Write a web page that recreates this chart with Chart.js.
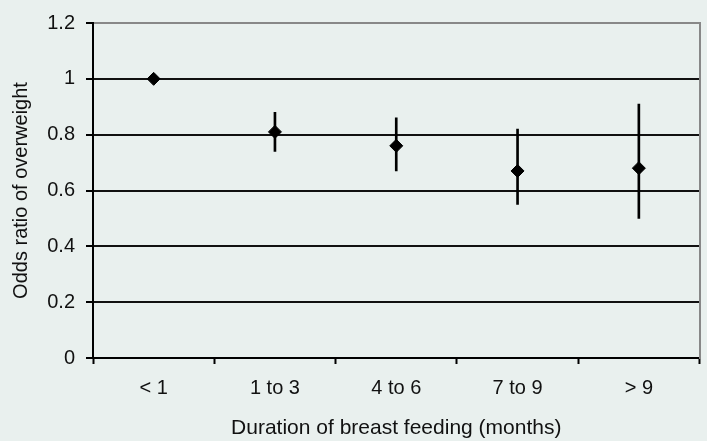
<!DOCTYPE html>
<html>
<head>
<meta charset="utf-8">
<script src="https://cdn.jsdelivr.net/npm/chart.js@4/dist/chart.umd.min.js"></script>
<style>
  html, body { margin: 0; padding: 0; background: #e9f0ee; }
  #c { display: block; }
</style>
</head>
<body>
<canvas id="c" width="707" height="441"></canvas>
<script>
const categories = ['< 1', '1 to 3', '4 to 6', '7 to 9', '> 9'];
const oddsRatio = [1.0, 0.81, 0.76, 0.67, 0.68];
const ciLow = [null, 0.74, 0.67, 0.55, 0.50];
const ciHigh = [null, 0.88, 0.86, 0.82, 0.91];
const yTicks = [0, 0.2, 0.4, 0.6, 0.8, 1, 1.2];

const FONT = 'Liberation Sans, Arial, sans-serif';
const TXT = '#111';

new Chart(document.getElementById('c'), {
  type: 'bar',
  data: {
    labels: categories,
    datasets: [
      {
        type: 'line',
        label: 'Odds ratio',
        data: oddsRatio,
        showLine: false,
        pointStyle: 'rectRot',
        pointRadius: 6.5,
        pointHoverRadius: 6.5,
        pointBackgroundColor: '#000',
        pointBorderColor: '#000',
        pointBorderWidth: 1,
        order: 0
      },
      {
        type: 'bar',
        label: '95% CI',
        data: ciLow.map((l, i) => (l === null ? null : [l, ciHigh[i]])),
        backgroundColor: '#000',
        borderWidth: 0,
        barThickness: 2,
        order: 1
      }
    ]
  },
  options: {
    responsive: false,
    animation: false,
    layout: { padding: { top: 22, right: 7, left: 0, bottom: 0 } },
    plugins: { legend: { display: false }, tooltip: { enabled: false } },
    scales: {
      x: {
        offset: true,
        grid: { display: true, drawOnChartArea: false, offset: true, tickLength: 6, tickColor: '#000', tickWidth: 2 },
        border: { color: '#000', width: 2 },
        ticks: { color: TXT, font: { family: FONT, size: 20 }, padding: 12, maxRotation: 0 },
        title: { display: true, text: 'Duration of breast feeding (months)', color: TXT, font: { family: FONT, size: 21 }, padding: { top: 0, bottom: 0 } },
        afterFit: s => { s.height = 83; }
      },
      y: {
        min: 0, max: 1.2,
        afterBuildTicks: s => { s.ticks = yTicks.map(v => ({ value: v })); },
        grid: {
          color: ctx => (ctx.tick && ctx.tick.value === 1.2 ? '#888' : '#111'),
          lineWidth: 2,
          tickLength: 7,
          tickColor: '#000',
          tickWidth: 2
        },
        border: { color: '#000', width: 2 },
        ticks: { color: TXT, font: { family: FONT, size: 20 }, padding: 11, callback: v => String(v) },
        title: { display: true, text: 'Odds ratio of overweight', color: TXT, font: { family: FONT, size: 20 }, padding: { top: 9, bottom: 0 } },
        afterFit: s => { s.width = 93; }
      },
      yr: {
        position: 'right',
        min: 0, max: 1.2,
        grid: { display: false, drawTicks: false },
        border: { color: '#888', width: 2 },
        ticks: { display: false },
        afterFit: s => { s.width = 0; }
      }
    }
  }
});
</script>
</body>
</html>
